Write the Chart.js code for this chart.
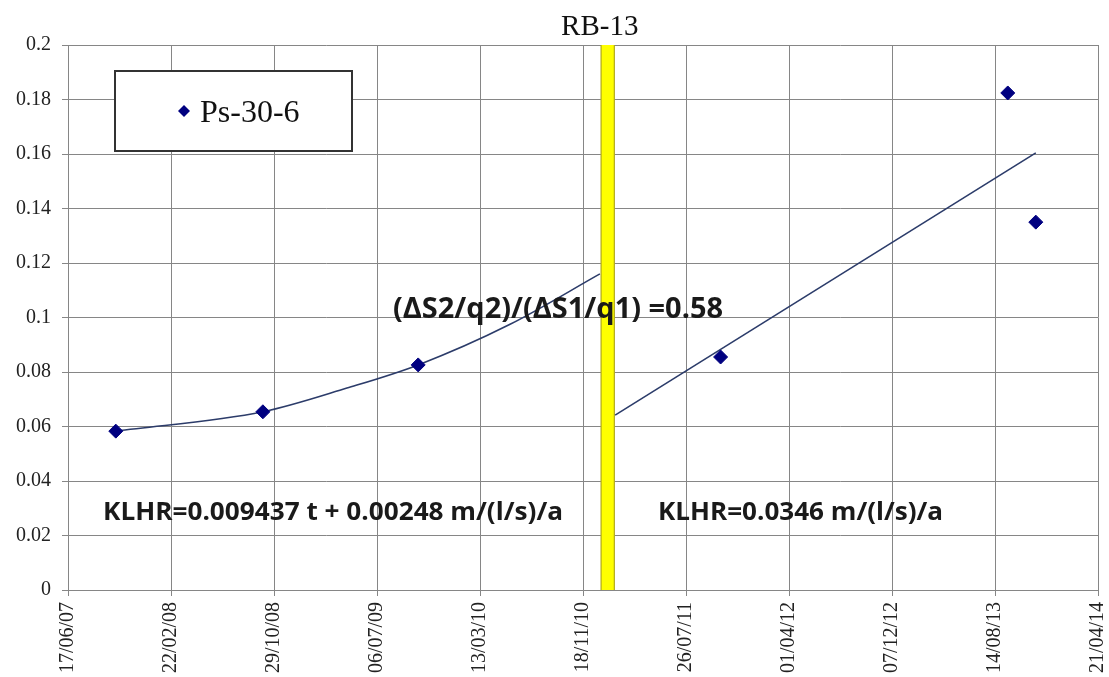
<!DOCTYPE html>
<html>
<head>
<meta charset="utf-8">
<title>RB-13 · Ps-30-6</title>
<script src="https://cdn.jsdelivr.net/npm/chart.js@4.4.1/dist/chart.umd.min.js"></script>
<style>
  html, body { margin: 0; background: #fff; }
  canvas { display: block; }
</style>
</head>
<body>
<canvas id="chart" width="1109" height="677"></canvas>
<script>
// ── Data ── (x values are Excel serial days, 39250 = 17/06/2007)
const xTickLabels = ['17/06/07', '22/02/08', '29/10/08', '06/07/09', '13/03/10', '18/11/10', '26/07/11', '01/04/12', '07/12/12', '14/08/13', '21/04/14'];
const xStart = 39250, xStep = 250;
const yMin = 0, yMax = 0.2, yStep = 0.02;

const seriesName = 'Ps-30-6';
const obsDays = [39366, 39723, 40100, 40834, 41531, 41599];
const obsValues = [0.0583, 0.0654, 0.0826, 0.0855, 0.1824, 0.135];

// trend before RB-13 (curve) and after it (straight)
const trend1Days = [39366, 39723, 39927, 40100, 40323, 40541];
const trend1Values = [0.0583, 0.0654, 0.0741, 0.0826, 0.0975, 0.116];
const trend2Days = [40578, 41599];
const trend2Values = [0.0642, 0.1604];

const rb13Day = 40560;
const rbLabel = 'RB-13';
const ratioText = '(ΔS2/q2)/(ΔS1/q1) =0.58';
const klhr1Text = 'KLHR=0.009437 t + 0.00248 m/(l/s)/a';
const klhr2Text = 'KLHR=0.0346 m/(l/s)/a';

const xEnd = xStart + xStep * (xTickLabels.length - 1);
const pts = (xs, ys) => xs.map((d, i) => ({ x: d, y: ys[i] }));

const NAVY = '#000080', LINE = '#2c3c6a', GRID = '#868686';

// ── Helpers ──
function fitText(ctx, txt, x, y, font, w) {
    ctx.font = font;
    const k = w / ctx.measureText(txt).width;
    ctx.save(); ctx.translate(x, y); ctx.scale(k, 1); ctx.fillText(txt, 0, 0); ctx.restore();
}
function diamond(ctx, cx, cy, r) {
    ctx.beginPath();
    ctx.moveTo(cx, cy - r); ctx.lineTo(cx + r, cy); ctx.lineTo(cx, cy + r); ctx.lineTo(cx - r, cy);
    ctx.closePath(); ctx.fill();
}

// ── Annotations, legend box, title ──
const overlay = {
    id: 'overlay',
    afterDraw(chart) {
        const { ctx, chartArea: a } = chart;
        ctx.save();
        ctx.textBaseline = 'alphabetic';

        // legend
        ctx.fillStyle = '#fff';
        ctx.fillRect(a.left + 47, a.top + 26, 237, 80);
        ctx.strokeStyle = '#333'; ctx.lineWidth = 2;
        ctx.strokeRect(a.left + 47, a.top + 26, 237, 80);
        ctx.fillStyle = NAVY;
        diamond(ctx, a.left + 116, a.top + 66, 6);
        ctx.fillStyle = '#111';
        ctx.font = '32px "Liberation Serif", serif';
        ctx.fillText(seriesName, a.left + 132, a.top + 77);

        // RB-13 label above the bar
        ctx.textAlign = 'center';
        ctx.font = '29px "Liberation Serif", serif';
        ctx.fillText(rbLabel, chart.scales.x.getPixelForValue(rb13Day) - 8, a.top - 10);
        ctx.textAlign = 'left';

        // equations
        ctx.fillStyle = '#1a1a1a';
        fitText(ctx, ratioText, a.left + 325, a.top + 273, 'bold 28px "Open Sans", sans-serif', 330);
        fitText(ctx, klhr1Text, a.left + 35, a.top + 475, 'bold 25px "Open Sans", sans-serif', 460);
        fitText(ctx, klhr2Text, a.left + 590, a.top + 475, 'bold 25px "Open Sans", sans-serif', 285);
        ctx.restore();
    }
};

// ── Chart ──
new Chart(document.getElementById('chart'), {
    type: 'scatter',
    data: {
        datasets: [
            { label: seriesName, data: pts(obsDays, obsValues), pointStyle: 'rectRot', pointRadius: 7, backgroundColor: NAVY, borderColor: NAVY, borderWidth: 1 },
            { label: 'trend1', data: pts(trend1Days, trend1Values), showLine: true, cubicInterpolationMode: 'monotone', borderColor: LINE, borderWidth: 1.6, pointRadius: 0 },
            { label: 'trend2', data: pts(trend2Days, trend2Values), showLine: true, borderColor: LINE, borderWidth: 1.6, pointRadius: 0 },
            { label: 'rbInner', data: pts([rb13Day, rb13Day], [yMin, yMax]), showLine: true, borderColor: '#ffff00', borderWidth: 12, pointRadius: 0 },
            { label: 'rbOuter', data: pts([rb13Day, rb13Day], [yMin, yMax]), showLine: true, borderColor: '#b4ad1c', borderWidth: 14.5, pointRadius: 0 }
        ]
    },
    options: {
        responsive: false,
        animation: false,
        events: [],
        layout: { padding: { top: 45, right: 11, left: 0, bottom: 0 } },
        plugins: { legend: { display: false }, tooltip: { enabled: false } },
        scales: {
            x: {
                type: 'linear', min: xStart, max: xEnd,
                afterBuildTicks: s => { s.ticks = xTickLabels.map((_, i) => ({ value: xStart + i * xStep })); },
                afterFit: s => { s.height = 87; s.paddingLeft = 0; s.paddingRight = 0; },
                ticks: {
                    callback: (v, i) => xTickLabels[i],
                    minRotation: 90, maxRotation: 90, padding: 6,
                    color: '#222', font: { family: '"Liberation Serif", serif', size: 20 }
                },
                grid: { color: GRID, lineWidth: 1, tickLength: 6 },
                border: { color: GRID }
            },
            y: {
                min: yMin, max: yMax,
                afterFit: s => { s.width = 68; },
                ticks: {
                    stepSize: yStep, padding: 11,
                    callback: v => String(+v.toFixed(2)),
                    color: '#222', font: { family: '"Liberation Serif", serif', size: 20 }
                },
                grid: { color: GRID, lineWidth: 1, tickLength: 6 },
                border: { color: GRID }
            }
        }
    },
    plugins: [overlay]
});
</script>
</body>
</html>
